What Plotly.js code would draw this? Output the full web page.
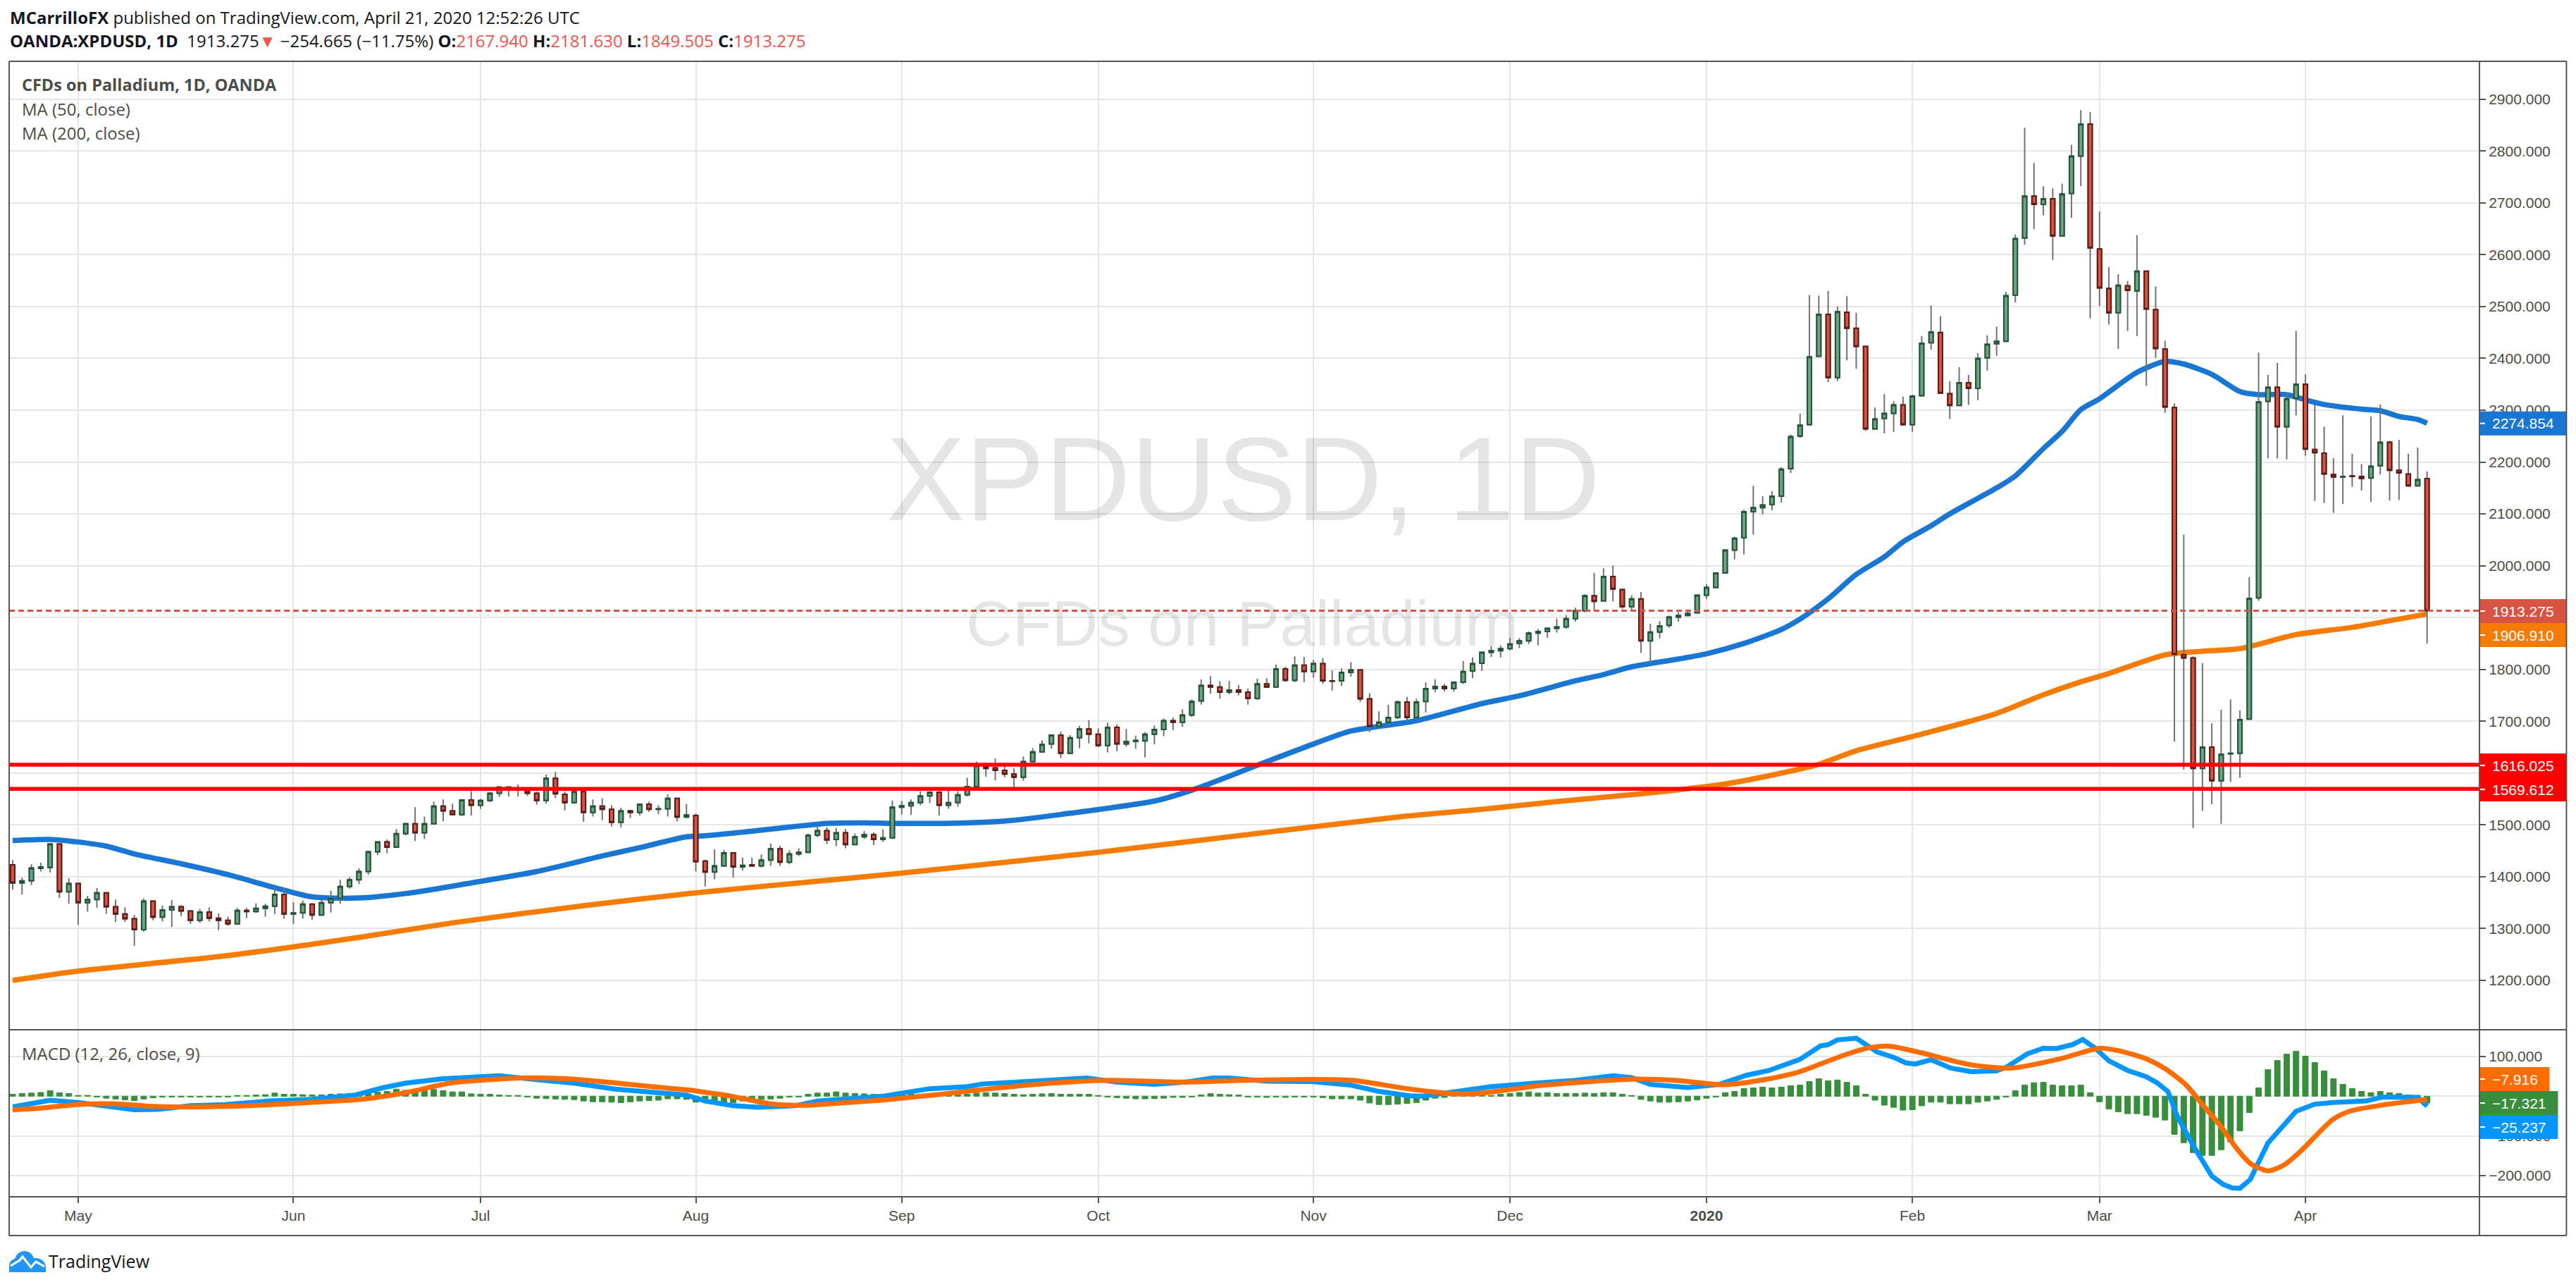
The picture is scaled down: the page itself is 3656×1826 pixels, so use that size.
<!DOCTYPE html>
<html lang="en">
  <head>
    <meta charset="UTF-8" />
    <title>XPDUSD 1D</title>
    <script src="https://cdn.plot.ly/plotly-3.0.1.min.js"></script>
    <style>
      body { margin: 0; background: #fff; }
      #chart { width: 3656px; height: 1826px; }
      #logo { position: absolute; left: 13px; top: 1775px; }
    </style>
  </head>
  <body>
    <div id="chart"></div>
    <svg id="logo" width="52" height="30" viewBox="0 0 52 30">
      <path fill="#2196f3" d="M0 30 V21 C0 15 4 12 8 11 C10 4 16 0 22 0 C29 0 33 5 35 10 C45 9 52 15 52 23 V30 Z" />
      <path fill="none" stroke="#fff" stroke-width="3" d="M2 21 L15 13 L19 8 L31 23 L38 15 L50 22" />
    </svg>
    <script>
      // candles, oldest first (bar number = position in the array)
      const opens = [
        1423,1388,1392,1416,1418,1463,1371,1387,1350,1356,
        1369,1342,1328,1319,1298,1353,1322,1336,1342,1334,
        1316,1332,1320,1316,1309,1335,1333,1339,1343,1366,
        1328,1330,1347,1326,1350,1358,1381,1394,1410,1448,
        1467,1457,1483,1502,1485,1502,1536,1527,1520,1548,
        1538,1547,1561,1573,1567,1566,1561,1547,1590,1559,
        1543,1564,1524,1536,1530,1505,1527,1524,1540,1530,
        1531,1551,1515,1518,1430,1409,1421,1446,1419,1423,
        1421,1432,1454,1428,1444,1447,1480,1489,1472,1485,
        1462,1477,1481,1472,1475,1534,1537,1543,1556,1563,
        1538,1543,1558,1574,1612,1610,1605,1598,1592,1622,
        1641,1656,1673,1638,1668,1685,1675,1653,1688,1656,
        1661,1662,1675,1684,1701,1698,1712,1739,1769,1766,
        1756,1760,1756,1744,1772,1766,1801,1779,1808,1796,
        1811,1778,1778,1794,1799,1743,1690,1698,1707,1737,
        1707,1738,1763,1767,1763,1775,1797,1812,1833,1836,
        1840,1850,1855,1870,1873,1879,1882,1898,1913,1942,
        1932,1979,1954,1921,1936,1855,1872,1885,1901,1904,
        1909,1943,1958,1986,2030,2054,2104,2112,2118,2134,
        2187,2250,2272,2404,2485,2363,2489,2458,2423,2264,
        2284,2294,2310,2272,2328,2430,2450,2332,2309,2353,
        2342,2401,2428,2433,2522,2632,2713,2697,2708,2636,
        2718,2790,2852,2611,2535,2488,2540,2530,2568,2494,
        2418,2305,1828,1822,1609,1650,1585,1637,1638,1704,
        1938,2317,2344,2268,2323,2350,2224,2217,2176,2171,
        2173,2172,2169,2193,2238,2184,2177,2154,2167.94
      ];
      const highs = [
        1432,1398,1424,1427,1464,1464,1397,1387,1363,1378,
        1370,1356,1341,1326,1358,1353,1344,1355,1345,1335,
        1338,1341,1329,1323,1340,1340,1349,1348,1379,1379,
        1351,1354,1347,1355,1373,1394,1399,1416,1450,1468,
        1472,1492,1504,1534,1516,1545,1549,1541,1549,1565,
        1550,1563,1575,1574,1578,1568,1564,1597,1602,1564,
        1566,1566,1549,1551,1538,1533,1529,1541,1545,1538,
        1559,1552,1540,1522,1433,1453,1452,1446,1437,1437,
        1443,1464,1460,1451,1455,1483,1499,1495,1494,1492,
        1483,1488,1486,1491,1547,1546,1549,1565,1565,1565,
        1567,1565,1591,1622,1620,1628,1615,1609,1632,1648,
        1663,1675,1680,1673,1691,1702,1686,1697,1694,1685,
        1672,1679,1692,1705,1707,1723,1742,1781,1787,1777,
        1778,1770,1763,1782,1783,1809,1805,1825,1824,1818,
        1822,1798,1802,1814,1801,1754,1719,1732,1740,1747,
        1743,1775,1781,1772,1777,1816,1823,1834,1845,1846,
        1861,1860,1873,1878,1881,1898,1905,1919,1945,1986,
        1995,2000,1955,1943,1949,1888,1893,1904,1910,1916,
        1944,1964,1987,2031,2056,2108,2154,2134,2144,2190,
        2253,2293,2522,2521,2530,2500,2520,2488,2423,2305,
        2331,2317,2326,2330,2443,2502,2481,2356,2383,2368,
        2410,2444,2461,2528,2639,2845,2777,2732,2728,2737,
        2812,2879,2875,2683,2576,2562,2549,2638,2568,2539,
        2434,2313,2060,1825,1812,1696,1722,1742,1721,1978,
        2411,2368,2391,2334,2453,2369,2311,2268,2207,2290,
        2216,2196,2288,2311,2241,2243,2216,2228,2181.63
      ];
      const lows = [
        1375,1366,1384,1410,1408,1359,1348,1307,1333,1340,
        1328,1313,1313,1267,1294,1316,1314,1303,1324,1309,
        1311,1314,1297,1305,1307,1320,1330,1323,1328,1319,
        1309,1319,1317,1326,1331,1348,1377,1386,1404,1442,
        1445,1456,1480,1469,1473,1502,1507,1519,1517,1518,
        1531,1544,1554,1555,1555,1556,1539,1541,1552,1528,
        1541,1506,1516,1509,1497,1495,1513,1518,1525,1521,
        1516,1507,1513,1410,1381,1395,1419,1398,1412,1419,
        1418,1421,1421,1424,1440,1446,1476,1463,1459,1455,
        1461,1473,1461,1467,1473,1520,1519,1538,1542,1518,
        1531,1535,1555,1573,1593,1586,1592,1573,1585,1619,
        1641,1647,1629,1638,1648,1657,1650,1640,1642,1651,
        1647,1630,1655,1671,1683,1689,1708,1732,1753,1744,
        1752,1750,1732,1741,1766,1765,1776,1775,1775,1784,
        1772,1759,1768,1786,1737,1679,1689,1692,1704,1700,
        1704,1717,1756,1757,1757,1772,1783,1797,1824,1823,
        1837,1841,1849,1846,1861,1871,1878,1892,1910,1913,
        1932,1931,1917,1912,1832,1810,1860,1880,1892,1903,
        1908,1936,1956,1986,2012,2022,2060,2099,2107,2122,
        2179,2247,2272,2404,2354,2356,2396,2380,2260,2262,
        2255,2258,2270,2258,2328,2417,2333,2283,2309,2310,
        2319,2376,2405,2433,2508,2619,2649,2676,2590,2636,
        2671,2732,2477,2501,2465,2418,2453,2443,2347,2401,
        2295,1661,1607,1494,1527,1540,1502,1583,1591,1704,
        1932,2207,2207,2205,2290,2212,2125,2121,2102,2119,
        2152,2145,2123,2176,2126,2127,2152,2154,1849.505
      ];
      const closes = [
        1388,1392,1417,1419,1463,1371,1387,1350,1356,1369,
        1342,1328,1319,1298,1353,1322,1336,1342,1334,1316,
        1332,1320,1316,1309,1335,1333,1339,1343,1366,1328,
        1330,1347,1326,1350,1358,1381,1394,1410,1448,1467,
        1457,1483,1502,1485,1502,1536,1527,1520,1548,1538,
        1547,1561,1573,1570,1569,1561,1547,1590,1560,1543,
        1564,1524,1536,1530,1505,1527,1524,1540,1530,1531,
        1551,1515,1519,1429,1409,1421,1446,1419,1422,1421,
        1432,1454,1428,1444,1447,1480,1489,1471,1485,1462,
        1477,1481,1472,1475,1534,1537,1543,1556,1563,1538,
        1543,1558,1574,1614,1609,1605,1598,1592,1622,1641,
        1655,1673,1638,1668,1685,1675,1653,1688,1656,1661,
        1663,1675,1684,1701,1698,1712,1738,1769,1766,1756,
        1760,1756,1744,1772,1766,1801,1779,1808,1796,1811,
        1778,1777,1794,1799,1743,1690,1698,1707,1737,1707,
        1737,1763,1767,1763,1775,1796,1811,1833,1836,1840,
        1849,1855,1870,1873,1879,1882,1898,1913,1942,1931,
        1979,1955,1921,1936,1855,1872,1884,1901,1904,1908,
        1943,1958,1986,2030,2053,2104,2112,2117,2134,2186,
        2249,2271,2403,2485,2363,2490,2458,2423,2264,2283,
        2294,2310,2272,2327,2429,2451,2333,2309,2353,2342,
        2400,2427,2433,2521,2631,2713,2697,2708,2636,2717,
        2790,2852,2613,2536,2488,2541,2531,2568,2495,2419,
        2306,1829,1822,1609,1650,1585,1636,1638,1703,1937,
        2316,2344,2268,2322,2350,2225,2218,2177,2171,2172,
        2172,2168,2192,2238,2184,2179,2154,2166,1913.275
      ];

      // moving averages: bar number, value
      const ma50Bars = [0,4,7,10,13,18,23,28,32,37,43,49,56,63,67,72,74,78,87,91,94,102,107,112,122,126,133,139,143,150,157,161,167,170,173,178,181,185,189,191,194,197,200,202,205,207,212,214,217,219,221,223,227,230,232,235,238,240,243,245,247,251,253,255,257,258];
      const ma50Vals = [1470,1472,1467,1459,1444,1425,1404,1379,1361,1359,1370,1388,1410,1440,1456,1477,1479,1486,1503,1504,1503,1504,1509,1520,1546,1567,1615,1656,1681,1701,1734,1749,1778,1790,1805,1820,1830,1850,1877,1897,1936,1983,2017,2046,2077,2100,2150,2173,2226,2259,2301,2322,2373,2394,2389,2369,2336,2330,2330,2320,2311,2302,2299,2288,2282,2274.854];
      const ma200Bars = [0,7,23,37,47,61,73,84,95,116,136,149,157,165,174,183,188,193,197,204,212,217,221,224,230,234,238,244,250,255,258];
      const ma200Vals = [1200,1218,1248,1283,1311,1344,1369,1388,1407,1447,1490,1517,1530,1545,1560,1579,1596,1617,1643,1675,1715,1751,1776,1792,1828,1835,1840,1867,1881,1897,1906.91];

      // MACD pane
      const macdHist = [
        5,7,8,9.5,14,9,7,2,2,-2,
        -5,-7,-9,-11,-7,-4,-2,-2,-2,-2,
        -2,-2,-2,-2,2,2,3,4,8,5,
        5,4,3.5,3.5,5,6,7,8,9,10,
        12,18,15,12,15,17,14,11,11,6,
        5,5,3,2,2,-2,-5,-6,-7,-8,
        -8.5,-12,-14,-14,-15,-16,-14,-12,-11,-10,
        -6.5,-6.5,-8,-15,-15,-14,-16,-16,-12,-9,
        -8,-7,-5,-2,-2,5,8,8,11,8,
        7,6,5,5,5,5,5,5,4,4,
        3,3,5,8,9,8,6.5,5,4,5,
        6,7,5,5,5,5,2,-2,-3.5,-5,
        -6.5,-6.5,-6,-5,-3,-3,-2,3.5,6.5,5,
        4,3,-2,-2,-3,-2,-3,-2,-2,-2,
        -3.5,-6.5,-6.5,-6.5,-10,-17,-21,-21,-20,-18,
        -16,-10,-5,-3,2,2,2,2,2,5,
        7,9.5,11,8,9,7,7,7,8,7,
        9,9,5,2,-8,-12,-15,-15,-14,-12,
        -9,-5,-2,9,12,19.5,21,23,21,23,
        26.5,28,37,44,39,41,35,26.5,5,-10,
        -22.5,-28,-35,-34,-24,-15,-15,-19,-19,-19,
        -15,-12,-8,-2,14,28,34,35,28,26.5,
        26.5,28,9,-14,-32,-39,-44,-44,-48,-53,
        -60,-96,-117,-142,-149,-149,-135,-115,-87,-41,
        21,67,90,106,113,101,85,64,44,30,
        19.5,12,9,12,9,7,3.5,2,-17.321
      ];
      const macdBars = [0,3,4,7,10,13,15.5,19,22.7,27.5,32,36.6,39.5,42,46,49,52,56.3,60,64.4,68.3,72,74,77,79.7,83.6,86,90,93,98,102,103.7,107.6,111.4,114.8,118,122,125.3,128.2,130,134,138.8,141.2,143,146,148,149.3,150.7,154,158,162.7,167,171,173,175,179,182.4,185.3,187.7,191,193.2,194,195,197,199.2,201,202.3,203.3,205,207.1,209.3,212,213.1,215.3,217,218.4,220.1,221.2,222.6,224,226,228,229.2,230.3,231.3,233,235,236.2,237.2,238,239.1,241,244,246,247.9,251.5,253.3,257,258];
      const macdVals = [-27,-16,-10,-16,-24,-34,-33,-24,-21,-12,-8,3,21,33,44,49,51.5,41,33,18,10,3,-12,-24,-28,-24,-12,-4,0,19,24,31,37,43,46,35.5,30,35.5,46,46,38,37,31,28,12,6,1,0,10,24,33,40,51.5,47,30,22,30,53,65,93,127,130,142,146,112,98,84,81,92,71,62,64,74,107,121,120,130,143,120,89,65,49,33,12,-50,-124,-201,-222,-231,-232,-210,-118,-38,-20,-16,-12,-2,-3,-25.237];
      const signalBars = [0,3,6.8,10.7,14.5,19.3,27,32.3,37.6,42,46.7,50.5,54.4,59.2,63.5,68.3,72.1,74,76.8,81.2,84.5,88.4,93.2,99.9,104.7,111,117.2,124.9,131.6,136.4,143.1,148.9,153.6,156.5,163.7,173.3,177.6,182.9,187.7,191,195.4,198.2,200.4,203.5,209.3,213.6,218.9,223,225,227.9,230.1,232.3,234,235.9,237.7,239.1,241,242.8,244.6,247.9,249.7,253.3,258];
      const signalVals = [-34,-30,-21,-19,-25,-27,-22,-15,-7,9,33,41,46,44,35.5,24,16,10,0,-20,-23,-17,-9,7,19.5,33,40,35.5,40,42,40,19.5,7,7,28,43,40,29,44,62,101,121,126,112,79,71,95,121,115,95,68,27,-21,-74,-133,-169,-188,-172,-136,-59,-38,-22,-7.916];

      // axes
      const monthBars = [7,30,50,73,95,116,139,160,181,203,223,245];
      const monthLabels = ['May','Jun','Jul','Aug','Sep','Oct','Nov','Dec','<b>2020</b>','Feb','Mar','Apr'];
      const priceTicks = [1200,1300,1400,1500,1600,1700,1800,1900,2000,2100,2200,2300,2400,2500,2600,2700,2800,2900];
      const macdTicks = [100,0,-100,-200];

      // horizontal levels
      const lastClose = 1913.275;
      const supportLevels = [1616.025,1569.612];

      const TICK_FONT = { family: 'Liberation Sans', size: 21, color: '#4c4c4c' };
      const TEXT_FONT = 'Open Sans';
      const PLOT_L = 13, PLOT_R = 3518.6, PLOT_T = 87, PLOT_B = 1698, PANE_SPLIT = 1461;
      const RED = '#ef5350';

      const xPaper = (px) => (px - PLOT_L) / (PLOT_R - PLOT_L);
      const yPaper = (py) => (PLOT_B - py) / (PLOT_B - PLOT_T);

      const allBars = opens.map((_, i) => i);
      const bodyTop = opens.map((o, i) => Math.max(o, closes[i]));
      const bodyBottom = opens.map((o, i) => Math.min(o, closes[i]));

      const wickStyle = { line: { color: '#737375', width: 2 }, fillcolor: '#737375' };

      const traces = [
        {
          x: [131.5, 131.4], y: [2145, 1877],
          text: ['XPDUSD, 1D', 'CFDs on Palladium'],
          type: 'scatter', mode: 'text', xaxis: 'x', yaxis: 'y',
          textposition: 'middle center',
          textfont: { family: 'Liberation Sans', size: [169, 91], color: 'rgba(0,0,0,0.1)' }
        },
        { x: ma200Bars, y: ma200Vals, type: 'scatter', mode: 'lines', xaxis: 'x', yaxis: 'y', line: { color: '#f57c00', width: 7.5, shape: 'spline', smoothing: 0.7 } },
        { x: ma50Bars, y: ma50Vals, type: 'scatter', mode: 'lines', xaxis: 'x', yaxis: 'y', line: { color: '#1976d2', width: 7.5, shape: 'spline', smoothing: 0.7 } },
        // wicks, then the bodies on top: the wick colour differs from the border colour
        {
          x: allBars, open: opens, high: highs, low: lows, close: closes,
          type: 'candlestick', xaxis: 'x', yaxis: 'y3', whiskerwidth: 0,
          increasing: wickStyle, decreasing: wickStyle
        },
        {
          x: allBars, open: opens, high: bodyTop, low: bodyBottom, close: closes,
          type: 'candlestick', xaxis: 'x', yaxis: 'y3', whiskerwidth: 0,
          increasing: { line: { color: '#225437', width: 2 }, fillcolor: '#6ba583' },
          decreasing: { line: { color: '#5b1a13', width: 2 }, fillcolor: '#d75442' }
        },
        {
          x: allBars, y: macdHist, type: 'bar', xaxis: 'x', yaxis: 'y2', width: 0.6,
          marker: { color: '#388e3c', line: { color: '#388e3c', width: 1 } }
        },
        { x: macdBars, y: macdVals, type: 'scatter', mode: 'lines', xaxis: 'x', yaxis: 'y2', line: { color: '#0496ff', width: 7 } },
        { x: signalBars, y: signalVals, type: 'scatter', mode: 'lines', xaxis: 'x', yaxis: 'y2', line: { color: '#ff6d00', width: 7, shape: 'spline', smoothing: 0.7 } }
      ];

      function frameLine(x0, y0, x1, y1) {
        return {
          type: 'line', xref: 'paper', yref: 'paper',
          x0: xPaper(x0), x1: xPaper(x1), y0: yPaper(y0), y1: yPaper(y1),
          line: { color: '#555555', width: 2 }
        };
      }

      function label(px, py, text, size, color, family) {
        return {
          xref: 'paper', yref: 'paper', x: xPaper(px), y: yPaper(py),
          xanchor: 'left', yanchor: 'middle', align: 'left', showarrow: false,
          text: text, borderpad: 0,
          font: { family: family || TEXT_FONT, size: size, color: color }
        };
      }

      const shapes = [];
      const annotations = [];

      // the coloured value tags on the price scale
      function tag(centerY, rightX, color, text) {
        shapes.push({
          type: 'rect', xref: 'paper', yref: 'paper', line: { width: 0 }, fillcolor: color,
          x0: xPaper(PLOT_R), x1: xPaper(rightX), y0: yPaper(centerY - 17), y1: yPaper(centerY + 17)
        });
        shapes.push({
          type: 'line', xref: 'paper', yref: 'paper', line: { color: '#ffffff', width: 2 },
          x0: xPaper(PLOT_R), x1: xPaper(PLOT_R + 8), y0: yPaper(centerY), y1: yPaper(centerY)
        });
        annotations.push(label(3536, centerY, text, 21, '#ffffff', 'Liberation Sans'));
      }

      shapes.push({
        type: 'line', xref: 'paper', yref: 'y', x0: 0, x1: 1, y0: lastClose, y1: lastClose,
        line: { color: '#d75442', width: 3, dash: '8px,5px' }
      });
      supportLevels.forEach((level) => shapes.push({
        type: 'line', xref: 'paper', yref: 'y', x0: 0, x1: 1, y0: level, y1: level,
        line: { color: '#ff0000', width: 5.5 }
      }));

      tag(600.7, 3642, '#1976d2', '2274.854');
      tag(867, 3642, '#d75442', '1913.275');
      tag(901, 3642, '#f57c00', '1906.910');
      tag(1086, 3642, '#ff0000', '1616.025');
      tag(1120, 3642, '#ff0000', '1569.612');
      tag(1531, 3618, '#ff6d00', '\u22127.916');
      tag(1565, 3630, '#388e3c', '\u221217.321');
      tag(1599, 3630, '#0496ff', '\u221225.237');

      shapes.push(
        frameLine(13, 87, 3642, 87),
        frameLine(13, 1461, 3642, 1461),
        frameLine(13, 1698, 3642, 1698),
        frameLine(13, 1753, 3642, 1753),
        frameLine(13, 87, 13, 1753),
        frameLine(3518.6, 87, 3518.6, 1753),
        frameLine(3642, 87, 3642, 1753)
      );

      annotations.push(
        label(13, 25, '<b>MCarrilloFX</b> published on TradingView.com, April 21, 2020 12:52:26 UTC', 24, '#131722'),
        label(13, 58,
          '<b>OANDA:XPDUSD, 1D</b>  1913.275<span style="color:' + RED + '">▼</span> \u2212254.665 (\u221211.75%) ' +
          '<b>O:</b><span style="color:' + RED + '">2167.940</span> <b>H:</b><span style="color:' + RED + '">2181.630</span> ' +
          '<b>L:</b><span style="color:' + RED + '">1849.505</span> <b>C:</b><span style="color:' + RED + '">1913.275</span>', 24, '#131722'),
        label(30, 120, '<b>CFDs on Palladium, 1D, OANDA</b>', 23.5, '#4c4c4c'),
        label(30, 155, 'MA (50, close)', 24, '#4c4c4c'),
        label(30, 188, 'MA (200, close)', 24, '#4c4c4c'),
        label(30, 1494, 'MACD (12, 26, close, 9)', 24, '#4c4c4c'),
        label(68, 1789, 'TradingView', 25, '#131722')
      );

      const priceRange = [1104.8, 2973];

      const layout = {
        width: 3656,
        height: 1826,
        margin: { l: PLOT_L, r: 3656 - PLOT_R, t: PLOT_T, b: 1826 - PLOT_B, pad: 0 },
        paper_bgcolor: '#ffffff',
        plot_bgcolor: '#ffffff',
        showlegend: false,
        hovermode: false,
        boxgap: 0.36,
        boxmode: 'overlay',
        shapes: shapes,
        annotations: annotations,
        xaxis: {
          type: 'linear', range: [-0.376, 263.6], anchor: 'y2',
          rangeslider: { visible: false },
          tickmode: 'array', tickvals: monthBars, ticktext: monthLabels,
          ticks: 'outside', ticklen: 8, tickwidth: 2, tickcolor: '#555555',
          tickfont: TICK_FONT,
          showgrid: true, gridcolor: '#e6e6e6', gridwidth: 2, zeroline: false, showline: false
        },
        yaxis: {
          domain: [yPaper(PANE_SPLIT), 1], range: priceRange, side: 'right', anchor: 'x',
          tickmode: 'array', tickvals: priceTicks, tickformat: '.3f',
          ticks: 'outside', ticklen: 8, tickwidth: 2, tickcolor: '#555555',
          tickfont: TICK_FONT,
          showgrid: true, gridcolor: '#e6e6e6', gridwidth: 2, zeroline: false, showline: false
        },
        yaxis2: {
          domain: [0, yPaper(PANE_SPLIT)], range: [-253.3, 167.5], side: 'right', anchor: 'x',
          tickmode: 'array', tickvals: macdTicks, tickformat: '.3f',
          ticks: 'outside', ticklen: 8, tickwidth: 2, tickcolor: '#555555',
          tickfont: TICK_FONT,
          showgrid: true, gridcolor: '#e6e6e6', gridwidth: 2, zeroline: false, showline: false
        },
        // candles sit on an overlay axis so they draw above the moving averages
        yaxis3: {
          overlaying: 'y', range: priceRange, side: 'right', anchor: 'x',
          showgrid: false, showticklabels: false, ticks: '', zeroline: false, showline: false
        }
      };

      Plotly.newPlot('chart', traces, layout, { displayModeBar: false, staticPlot: true });
    </script>
  </body>
</html>
